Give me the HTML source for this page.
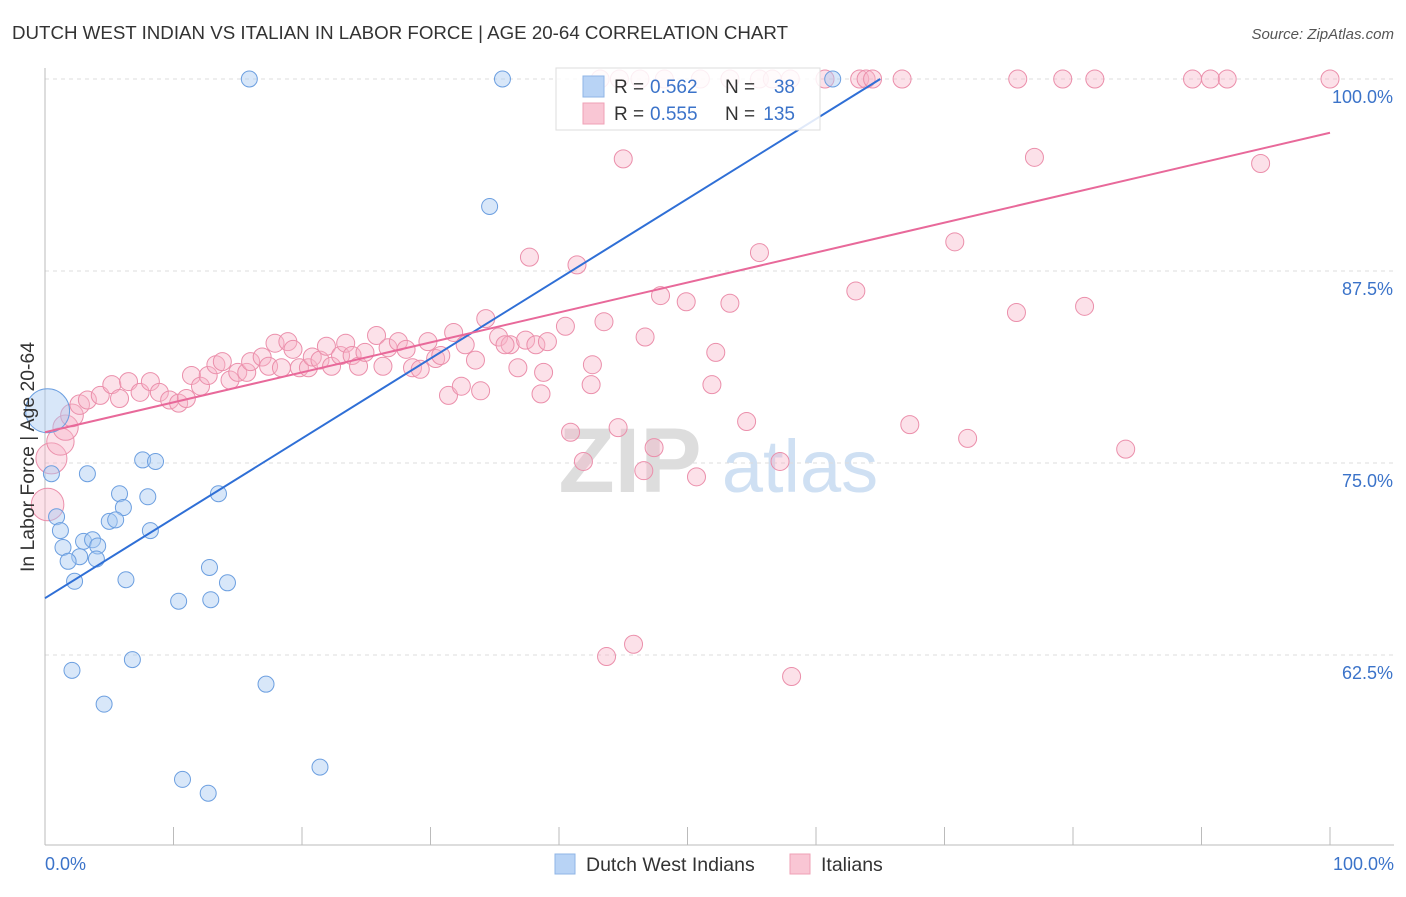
<!DOCTYPE html>
<html><head><meta charset="utf-8"><style>
body{margin:0;background:#fff;font-family:"Liberation Sans",sans-serif;}
svg text{font-family:"Liberation Sans",sans-serif;}
</style></head><body>
<svg id="chart" width="1406" height="892" xmlns="http://www.w3.org/2000/svg">
<text x="12" y="39" font-size="18" fill="#333" textLength="776" lengthAdjust="spacingAndGlyphs">DUTCH WEST INDIAN VS ITALIAN IN LABOR FORCE | AGE 20-64 CORRELATION CHART</text>
<text x="1394" y="39" font-size="15" fill="#555" text-anchor="end" font-style="italic">Source: ZipAtlas.com</text>
<g>
<text x="630" y="492" font-size="92" fill="#ddd" font-family="Liberation Serif" text-anchor="middle" font-weight="bold">ZIP</text>
<text x="800" y="492" font-size="74" fill="#cfe0f3" text-anchor="middle">atlas</text>
</g>
<g id="grid"></g>
<g id="axes"></g>
<g id="marks"></g>
<text transform="translate(34,457) rotate(-90)" font-size="19" fill="#333" text-anchor="middle" textLength="230" lengthAdjust="spacingAndGlyphs">In Labor Force | Age 20-64</text>
<g>
<rect x="556" y="68" width="264" height="62" fill="#fff" fill-opacity="0.85" stroke="#ddd"/>
<rect x="583" y="76" width="21" height="21" fill="#b8d3f5" stroke="#8fb4e6"/>
<text x="614" y="93" font-size="19" fill="#333">R =</text>
<text x="650" y="93" font-size="19" fill="#3b73c9">0.562</text>
<text x="725" y="93" font-size="19" fill="#333">N =</text>
<text x="795" y="93" font-size="19" fill="#3b73c9" text-anchor="end">38</text>
<rect x="583" y="103" width="21" height="21" fill="#f9c6d4" stroke="#efa0b6"/>
<text x="614" y="120" font-size="19" fill="#333">R =</text>
<text x="650" y="120" font-size="19" fill="#3b73c9">0.555</text>
<text x="725" y="120" font-size="19" fill="#333">N =</text>
<text x="795" y="120" font-size="19" fill="#3b73c9" text-anchor="end">135</text>
</g>
<g>
<rect x="555" y="854" width="20" height="20" fill="#b8d3f5" stroke="#8fb4e6"/>
<text x="586" y="871" font-size="19.5" fill="#333">Dutch West Indians</text>
<rect x="790" y="854" width="20" height="20" fill="#f9c6d4" stroke="#efa0b6"/>
<text x="821" y="871" font-size="19.5" fill="#333">Italians</text>
</g>
</svg>
<script>
const blueX=[15.9,35.6,61.3,34.6,0.2,0.5,7.6,8.6,3.3,0.9,1.2,5.8,8.0,6.1,5.0,5.5,13.5,8.2,1.4,3.0,3.7,4.1,2.7,1.8,4.0,2.3,6.3,12.8,14.2,10.4,12.9,2.1,6.8,17.2,4.6,10.7,12.7,21.4];
const blueY=[100,100,100,91.7,78.4,74.3,75.2,75.1,74.3,71.5,70.6,73.0,72.8,72.1,71.2,71.3,73.0,70.6,69.5,69.9,70.0,69.6,68.9,68.6,68.75,67.3,67.4,68.2,67.2,66.0,66.1,61.5,62.2,60.6,59.3,54.4,53.5,55.2];
const pinkX=[43.2,44.7,46.3,48.2,51.0,53.3,55.6,56.6,58.0,60.7,63.4,63.9,64.4,66.7,75.7,79.2,81.7,89.3,90.7,92.0,100,
45.0,77.0,94.6,37.7,41.4,55.6,70.8,34.3,47.9,49.9,53.3,63.1,75.6,80.9,43.5,40.5,46.7,52.2,42.6,42.5,51.9,38.6,31.4,33.9,32.4,40.9,44.6,47.4,41.9,46.6,50.7,54.6,57.2,67.3,71.8,84.1,43.7,45.8,58.1,
0.2,0.5,1.2,1.6,2.1,2.7,3.3,4.3,5.2,5.8,6.5,7.4,8.2,8.9,9.7,10.4,11.0,11.4,12.1,12.7,13.3,13.8,14.4,15.0,15.7,16.0,16.9,17.4,17.9,18.4,18.9,19.3,19.8,20.5,20.8,21.4,21.9,22.3,23.0,23.4,23.9,24.4,24.9,25.8,26.3,26.7,27.5,28.1,28.6,29.2,29.8,30.4,30.8,31.8,32.7,33.5,35.3,36.2,36.8,37.4,38.2,39.1,38.8,35.8];
const pinkY=[100,100,100,100,100,100,100,100,100,100,100,100,100,100,100,100,100,100,100,100,100,
94.8,94.9,94.5,88.4,87.9,88.7,89.4,84.4,85.9,85.5,85.4,86.2,84.8,85.2,84.2,83.9,83.2,82.2,81.4,80.1,80.1,79.5,79.4,79.7,80.0,77.0,77.3,76.0,75.1,74.5,74.1,77.7,75.1,77.5,76.6,75.9,62.4,63.2,61.1,
72.3,75.3,76.4,77.3,78.1,78.8,79.1,79.4,80.1,79.2,80.3,79.6,80.3,79.6,79.1,78.9,79.2,80.7,80.0,80.7,81.4,81.6,80.4,80.9,80.9,81.6,81.9,81.3,82.8,81.2,82.9,82.4,81.2,81.2,81.9,81.7,82.6,81.3,82.0,82.8,82.0,81.3,82.2,83.3,81.3,82.5,82.9,82.4,81.2,81.1,82.9,81.8,82.0,83.5,82.7,81.7,83.2,82.7,81.2,83.0,82.7,82.9,80.9,82.7];
const blueTrend=[66.2,0.52]; // intercept, slope
const pinkTrend=[77.0,0.195];
const yTicks=[100,87.5,75,62.5];
const yTickLabels=["100.0%","87.5%","75.0%","62.5%"];

const NS="http://www.w3.org/2000/svg";
const X=v=>45+v*12.85, Y=v=>79+(100-v)*15.36;
function mk(tag,attrs,parent){const e=document.createElementNS(NS,tag);for(const k in attrs)e.setAttribute(k,attrs[k]);parent.appendChild(e);return e;}
const grid=document.getElementById('grid'),axes=document.getElementById('axes'),marks=document.getElementById('marks');
yTicks.forEach((t,i)=>{
 const l=mk('line',{x1:45,x2:1394,y1:Y(t),y2:Y(t),stroke:'#ddd','stroke-dasharray':'4,4'},grid);
 
 
 const tx=mk('text',{x:1393,y:Y(t)+24,'font-size':18,fill:'#3b73c9','text-anchor':'end'},axes);
 tx.textContent=yTickLabels[i];
 
 
});
let a=mk('line',{x1:45,x2:45,y1:68,y2:845,stroke:'#bbb'},axes);


a=mk('line',{x1:45,x2:1394,y1:845,y2:845,stroke:'#bbb'},axes);


for(let i=0;i<=10;i++){const t=mk('line',{x1:X(i*10),x2:X(i*10),y1:827,y2:845,stroke:'#bbb'},axes);
 
 }
let xl=mk('text',{x:45,y:870,'font-size':18,fill:'#3b73c9'},axes);xl.textContent='0.0%';


xl=mk('text',{x:1394,y:870,'font-size':18,fill:'#3b73c9','text-anchor':'end'},axes);xl.textContent='100.0%';



function rad(x,base){ if(x<3) return base+(3-x)*2.6; return base;}
pinkX.forEach((x,i)=>{const c=mk('circle',{cx:X(x),cy:Y(pinkY[i]),r:rad(x,9),fill:'#f7b3c8','fill-opacity':0.4,stroke:'#eb8fab','stroke-width':1},marks);
 
 });
blueX.forEach((x,i)=>{const c=mk('circle',{cx:X(x),cy:Y(blueY[i]),r:(x<0.5&&blueY[i]>77)?22:8,fill:'#a9c9f1','fill-opacity':0.45,stroke:'#6c9fe0','stroke-width':1},marks);
 
 });
const bEnd=(100-blueTrend[0])/blueTrend[1];
let tl=mk('line',{x1:X(0),y1:Y(blueTrend[0]),x2:X(bEnd),y2:Y(100),stroke:'#2f6fd6','stroke-width':2},marks);


tl=mk('line',{x1:X(0),y1:Y(pinkTrend[0]),x2:X(100),y2:Y(pinkTrend[0]+pinkTrend[1]*100),stroke:'#e8699a','stroke-width':2},marks);


</script>
</body></html>
